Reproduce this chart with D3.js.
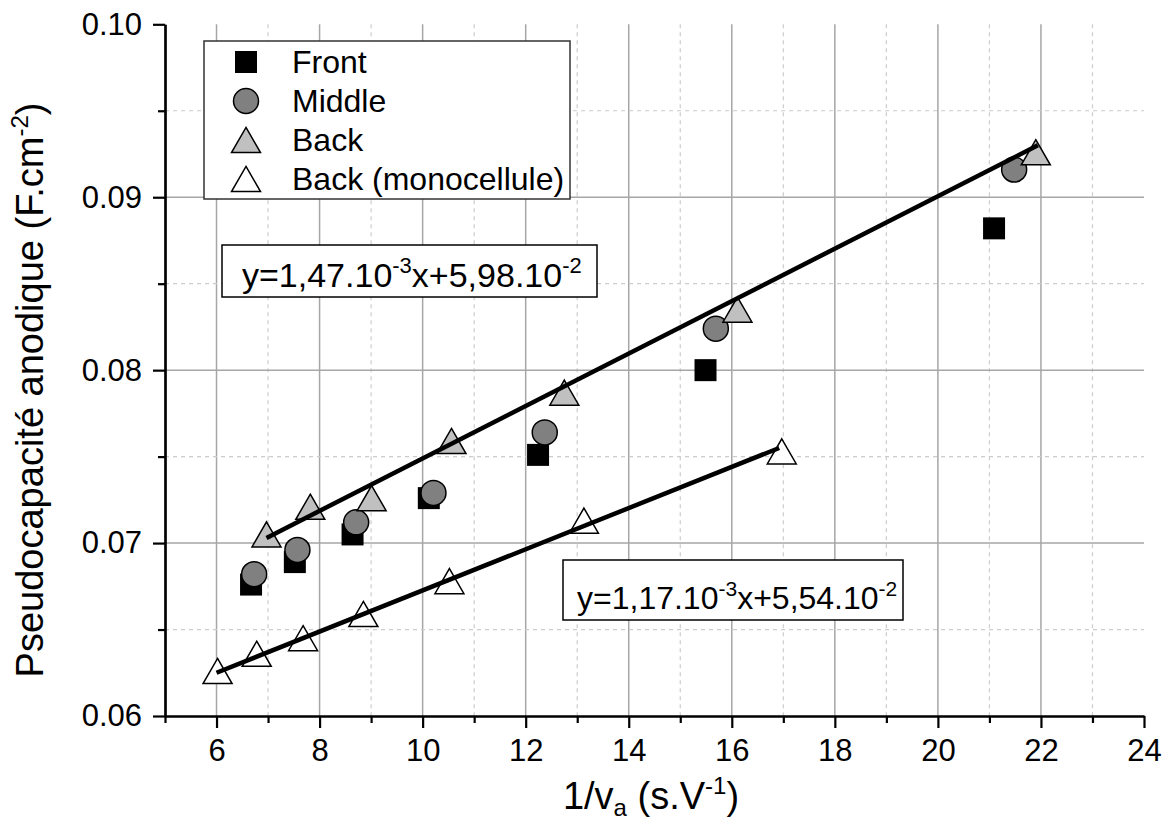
<!DOCTYPE html>
<html>
<head>
<meta charset="utf-8">
<script src="https://cdn.jsdelivr.net/npm/d3@7"></script>
<style>
body { margin: 0; background: #ffffff; }
text { font-family: "Liberation Sans", Arial, sans-serif; fill: #000; }
</style>
</head>
<body>
<div id="canvas"></div>
<script>
"use strict"

/* Values */
let frontX = [6.67, 7.52, 8.64, 10.12, 12.24, 15.49, 21.09];
let frontY = [0.0676, 0.0689, 0.0705, 0.0726, 0.0751, 0.0800, 0.0882];
let middleX = [6.73, 7.57, 8.71, 10.21, 12.37, 15.69, 21.48];
let middleY = [0.0682, 0.0696, 0.0712, 0.0729, 0.0764, 0.0824, 0.0916];
let backX = [6.97, 7.82, 9.01, 10.56, 12.75, 16.11, 21.90];
let backY = [0.0705, 0.0721, 0.0726, 0.0759, 0.0787, 0.0835, 0.0926];
let monoX = [6.02, 6.78, 7.68, 8.85, 10.52, 13.13, 16.97];
let monoY = [0.0626, 0.0636, 0.0645, 0.0659, 0.0678, 0.0713, 0.0753];

/* End points of the two fitted lines */
let fitBackX = [6.97, 21.94];
let fitBackY = [0.0703, 0.0930];
let fitMonoX = [6.0, 16.92];
let fitMonoY = [0.0625, 0.0755];

let seriesNames = ["Front", "Middle", "Back", "Back (monocellule)"];
let xTicks = [6, 8, 10, 12, 14, 16, 18, 20, 22, 24];
let xMinorTicks = [5, 7, 9, 11, 13, 15, 17, 19, 21, 23];
let yTicks = [0.06, 0.07, 0.08, 0.09, 0.10];
let yMinorTicks = [0.065, 0.075, 0.085, 0.095];

/* Talk to the svg canvas */
let drawing = d3.select("#canvas")
    .append("svg")
    .attr("width", 1169)
    .attr("height", 825);

let x = d3.scaleLinear().domain([5, 24]).range([165, 1144]);
let y = d3.scaleLinear().domain([0.06, 0.10]).range([716, 24.3]);

/* Grid: solid on the major ticks, dashed on the minor ones */
let gridMajorX = drawing.append("g").selectAll("line")
    .data(xTicks.filter(d => d < 24))
    .join("line")
    .attr("x1", d => x(d)).attr("x2", d => x(d))
    .attr("y1", y(0.10)).attr("y2", y(0.06))
    .attr("stroke", "#a6a6a6").attr("stroke-width", 1.5);

let gridMinorX = drawing.append("g").selectAll("line")
    .data(xMinorTicks.filter(d => d > 5))
    .join("line")
    .attr("x1", d => x(d)).attr("x2", d => x(d))
    .attr("y1", y(0.10)).attr("y2", y(0.06))
    .attr("stroke", "#cccccc").attr("stroke-width", 1.2)
    .attr("stroke-dasharray", "4,4");

let gridMajorY = drawing.append("g").selectAll("line")
    .data(yTicks.filter(d => d > 0.06 && d < 0.1))
    .join("line")
    .attr("x1", x(5)).attr("x2", x(24))
    .attr("y1", d => y(d)).attr("y2", d => y(d))
    .attr("stroke", "#a6a6a6").attr("stroke-width", 1.5);

let gridMinorY = drawing.append("g").selectAll("line")
    .data(yMinorTicks)
    .join("line")
    .attr("x1", x(5)).attr("x2", x(24))
    .attr("y1", d => y(d)).attr("y2", d => y(d))
    .attr("stroke", "#cccccc").attr("stroke-width", 1.2)
    .attr("stroke-dasharray", "4,4");

/* Axes */
let xAxisMinor = drawing.append("g")
    .attr("transform", "translate(0," + y(0.06) + ")")
    .call(d3.axisBottom(x).tickValues(xMinorTicks).tickSize(7).tickSizeOuter(0).tickFormat(""));
let xAxis = drawing.append("g")
    .attr("transform", "translate(0," + y(0.06) + ")")
    .call(d3.axisBottom(x).tickValues(xTicks).tickSize(12).tickSizeOuter(0).tickPadding(11)
        .tickFormat(d3.format("d")));

let yAxisMinor = drawing.append("g")
    .attr("transform", "translate(" + x(5) + ",0)")
    .call(d3.axisLeft(y).tickValues(yMinorTicks).tickSize(7).tickSizeOuter(0).tickFormat(""));
let yAxis = drawing.append("g")
    .attr("transform", "translate(" + x(5) + ",0)")
    .call(d3.axisLeft(y).tickValues(yTicks).tickSize(12).tickSizeOuter(0).tickPadding(11)
        .tickFormat(d3.format(".2f")));

drawing.selectAll(".domain").attr("stroke", "#000").attr("stroke-width", 2.2);
drawing.selectAll(".tick line").attr("stroke", "#000").attr("stroke-width", 2.2);
drawing.selectAll(".tick text").attr("font-size", 31)
    .attr("font-family", "Liberation Sans, Arial, sans-serif");

/* Axis titles */
let xTitle = drawing.append("text")
    .attr("x", 651).attr("y", 809)
    .attr("text-anchor", "middle")
    .attr("font-size", 38);
xTitle.append("tspan").text("1/v");
xTitle.append("tspan").attr("font-size", 24).attr("dy", 7).text("a");
xTitle.append("tspan").attr("dy", -7).text(" (s.V");
xTitle.append("tspan").attr("font-size", 24).attr("dy", -15).text("-1");
xTitle.append("tspan").attr("dy", 15).text(")");

let yTitle = drawing.append("text")
    .attr("transform", "translate(43,390) rotate(-90)")
    .attr("text-anchor", "middle")
    .attr("font-size", 38);
yTitle.append("tspan").text("Pseudocapacité anodique (F.cm");
yTitle.append("tspan").attr("font-size", 24).attr("dy", -15).text("-2");
yTitle.append("tspan").attr("dy", 15).text(")");

/* Triangle centred on its bounding box, like the reference */
let triangleType = {
    draw(context, size) {
        let s = Math.sqrt(size * 4 / Math.sqrt(3));
        let h = s * Math.sqrt(3) / 2;
        context.moveTo(0, -h / 2);
        context.lineTo(s / 2, h / 2);
        context.lineTo(-s / 2, h / 2);
        context.closePath();
    }
};

let squareSymbol = d3.symbol().type(d3.symbolSquare).size(484);
let circleSymbol = d3.symbol().type(d3.symbolCircle).size(491);
let triangleSymbol = d3.symbol().type(triangleType).size(364);

/* Legend box */
let legendBox = drawing.append("rect")
    .attr("x", 204).attr("y", 41)
    .attr("width", 366).attr("height", 158)
    .attr("fill", "#fff").attr("stroke", "#333").attr("stroke-width", 1.5);

let legendSymbols = [squareSymbol, circleSymbol, triangleSymbol, triangleSymbol];
let legendFills = ["#000", "#808080", "#c0c0c0", "#fff"];
let legendItems = drawing.append("g").selectAll("g")
    .data(seriesNames)
    .join("g")
    .attr("transform", (d, i) => "translate(246," + (62 + i * 39) + ")");
legendItems.append("path")
    .attr("d", (d, i) => legendSymbols[i]())
    .attr("fill", (d, i) => legendFills[i])
    .attr("stroke", (d, i) => i == 0 ? "none" : "#000")
    .attr("stroke-width", 1.5);
legendItems.append("text")
    .attr("x", 46).attr("y", 11)
    .attr("font-size", 32)
    .text(d => d);

/* Equation boxes */
let eqBox1 = drawing.append("rect")
    .attr("x", 222).attr("y", 245).attr("width", 375).attr("height", 52)
    .attr("fill", "#fff").attr("stroke", "#000").attr("stroke-width", 1.5);
let eqText1 = drawing.append("text")
    .attr("x", 242).attr("y", 287).attr("font-size", 34);
eqText1.append("tspan").text("y=1,47.10");
eqText1.append("tspan").attr("font-size", 22).attr("dy", -14).text("-3");
eqText1.append("tspan").attr("dy", 14).text("x+5,98.10");
eqText1.append("tspan").attr("font-size", 22).attr("dy", -14).text("-2");

let eqBox2 = drawing.append("rect")
    .attr("x", 563).attr("y", 560).attr("width", 340).attr("height", 60)
    .attr("fill", "#fff").attr("stroke", "#000").attr("stroke-width", 1.5);
let eqText2 = drawing.append("text")
    .attr("x", 577).attr("y", 609).attr("font-size", 32);
eqText2.append("tspan").text("y=1,17.10");
eqText2.append("tspan").attr("font-size", 21).attr("dy", -13).text("-3");
eqText2.append("tspan").attr("dy", 13).text("x+5,54.10");
eqText2.append("tspan").attr("font-size", 21).attr("dy", -13).text("-2");

/* Scatter points */
function drawPoints(xs, ys, symbol, fill, stroke) {
    drawing.append("g").selectAll("path")
        .data(xs)
        .join("path")
        .attr("transform", (d, i) => "translate(" + x(d) + "," + y(ys[i]) + ")")
        .attr("d", symbol())
        .attr("fill", fill)
        .attr("stroke", stroke)
        .attr("stroke-width", 1.5);
}
drawPoints(frontX, frontY, squareSymbol, "#000", "none");
drawPoints(middleX, middleY, circleSymbol, "#808080", "#000");
drawPoints(backX, backY, triangleSymbol, "#c0c0c0", "#000");
drawPoints(monoX, monoY, triangleSymbol, "#fff", "#000");

/* Fitted lines */
let line = d3.line().x(d => x(d[0])).y(d => y(d[1]));
let fitBack = drawing.append("path")
    .attr("d", line(d3.zip(fitBackX, fitBackY)))
    .attr("fill", "none").attr("stroke", "#000").attr("stroke-width", 4.5);
let fitMono = drawing.append("path")
    .attr("d", line(d3.zip(fitMonoX, fitMonoY)))
    .attr("fill", "none").attr("stroke", "#000").attr("stroke-width", 4.5);
</script>
</body>
</html>
